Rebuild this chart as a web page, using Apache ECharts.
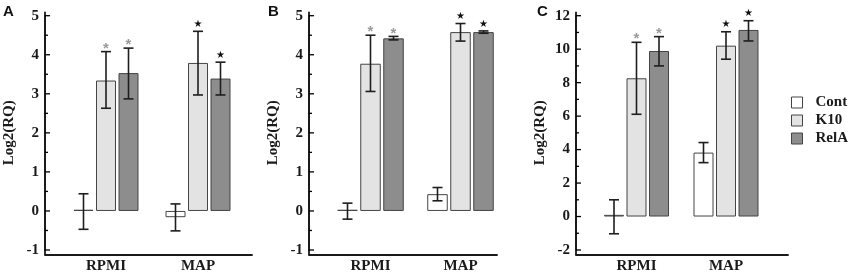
<!DOCTYPE html>
<html>
<head>
<meta charset="utf-8">
<script src="https://cdn.jsdelivr.net/npm/echarts@6/dist/echarts.min.js"></script>
<style>
  html, body { margin: 0; padding: 0; background: #fff; }
  #chart { width: 851px; height: 277px; }
</style>
</head>
<body>
<div id="chart"></div>
<script>
// categories and groups
const categories = ['RPMI', 'MAP']
const catPos = [1, 2]        // position of each category on the x value axis
const groups = ['Cont', 'K10', 'RelA']
const marks = ['*', '★']   // significance mark per category (K10 and RelA only)

// panel A: means [RPMI, MAP] and error bar ends
const aCont = [0.03, -0.16]
const aK10 = [3.34, 3.79]
const aRelA = [3.53, 3.39]
const aLow = [[-0.47, -0.51], [2.63, 2.97], [2.87, 2.97]]
const aHigh = [[0.44, 0.18], [4.08, 4.60], [4.17, 3.81]]

// panel B
const bCont = [0.03, 0.43]
const bK10 = [3.77, 4.58]
const bRelA = [4.42, 4.58]
const bLow = [[-0.21, 0.26], [3.06, 4.35], [4.38, 4.55]]
const bHigh = [[0.20, 0.60], [4.50, 4.80], [4.47, 4.61]]

// panel C
const cCont = [0.10, 3.82]
const cK10 = [8.26, 10.21]
const cRelA = [9.89, 11.15]
const cLow = [[-1.03, 3.22], [6.11, 9.40], [9.00, 10.49]]
const cHigh = [[1.00, 4.42], [10.41, 11.04], [10.75, 11.70]]

// y ticks per panel
const yMajorA = [-1, 0, 1, 2, 3, 4, 5]
const yMinorA = [-0.5, 0.5, 1.5, 2.5, 3.5, 4.5]
const yMajorC = [-2, 0, 2, 4, 6, 8, 10, 12]
const yMinorC = [-1, 1, 3, 5, 7, 9, 11]

const fills = ['#ffffff', '#e3e3e3', '#8d8d8d']
const serif = 'Liberation Serif'
const ink = '#1a1a1a'

// frame: axis line span in px; centers: pixel centre of each bar group
const panels = [
  { letter: 'A', letterX: 3, frame: [45, 252], centers: [106, 198], major: yMajorA, minor: yMinorA,
    barW: 20, gap: 2.5, vals: [aCont, aK10, aRelA], low: aLow, high: aHigh },
  { letter: 'B', letterX: 268, frame: [309, 497], centers: [370.5, 460.5], major: yMajorA, minor: yMinorA,
    barW: 20.5, gap: 2.5, vals: [bCont, bK10, bRelA], low: bLow, high: bHigh },
  { letter: 'C', letterX: 537, frame: [576, 788], centers: [636.5, 726], major: yMajorC, minor: yMinorC,
    barW: 20, gap: 2.5, vals: [cCont, cK10, cRelA], low: cLow, high: cHigh }
]

const W = 851, H = 277
const grid = [], xAxis = [], yAxis = [], series = [], title = []

panels.forEach((p, k) => {
  const fi = 2 * k, pi = 2 * k + 1
  const L = p.frame[0], R = p.frame[1]
  // frame grid: draws the long axis lines only
  grid.push({ left: L, width: R - L, top: 12.5, bottom: H - 254.5 })
  xAxis.push({ type: 'value', gridIndex: fi, min: 0, max: 1,
    axisLine: { lineStyle: { color: ink, width: 1.8 } },
    axisTick: { show: false }, axisLabel: { show: false }, splitLine: { show: false } })
  yAxis.push({ type: 'value', gridIndex: fi, min: 0, max: 1,
    axisLine: { show: true, lineStyle: { color: ink, width: 1.8 } },
    axisTick: { show: false }, axisLabel: { show: false }, splitLine: { show: false } })

  // plot grid: bars, labels
  const s = p.centers[1] - p.centers[0]
  const xMin = catPos[0] - (p.centers[0] - L) / s
  const xMax = catPos[1] + (R - p.centers[1]) / s
  const yMin = p.major[0], yMax = p.major[p.major.length - 1]
  grid.push({ left: L, width: R - L, top: 15.7, bottom: H - 250 })
  xAxis.push({ type: 'value', gridIndex: pi, min: xMin, max: xMax,
    axisLine: { show: false }, axisTick: { show: false }, splitLine: { show: false },
    axisLabel: { customValues: catPos, formatter: v => categories[catPos.indexOf(Math.round(v))] || '',
      margin: 9, fontFamily: serif, fontWeight: 'bold', fontSize: 15, color: ink } })
  yAxis.push({ type: 'value', gridIndex: pi, min: yMin, max: yMax, interval: p.major[1] - p.major[0],
    name: 'Log2(RQ)', nameLocation: 'middle', nameRotate: 90, nameGap: 28,
    nameTextStyle: { fontFamily: serif, fontWeight: 'bold', fontSize: 15, color: ink },
    axisLine: { show: true, lineStyle: { color: ink, width: 1.8 } },
    axisTick: { show: false },
    axisLabel: { margin: 6, fontFamily: serif, fontWeight: 'bold', fontSize: 15, color: ink },
    splitLine: { show: false } })

  groups.forEach((g, gi) => {
    series.push({ type: 'bar', name: g, xAxisIndex: pi, yAxisIndex: pi,
      data: catPos.map((x, ci) => [x, p.vals[gi][ci]]),
      barWidth: p.barW, barGap: (p.gap / p.barW * 100) + '%',
      itemStyle: { color: fills[gi], borderColor: '#444', borderWidth: 1 },
      silent: true, animation: false })
  })

  // inward y ticks, placed through the y scale
  const tickData = p.major.map(v => [xMin, v, 1]).concat(p.minor.map(v => [xMin, v, 0]))
  series.push({ type: 'custom', xAxisIndex: pi, yAxisIndex: pi, z: 6, silent: true, animation: false,
    clip: false, data: tickData, encode: { x: 0, y: 1 },
    renderItem: (params, api) => {
      const pt = api.coord([api.value(0), api.value(1)])
      const len = api.value(2) ? 5 : 3
      return { type: 'line', shape: { x1: pt[0], y1: pt[1], x2: pt[0] + len, y2: pt[1] },
        style: { stroke: '#000', lineWidth: 1.3 } }
    } })

  const errData = []
  groups.forEach((g, gi) => {
    categories.forEach((c, ci) => errData.push([catPos[ci], gi, p.low[gi][ci], p.high[gi][ci], ci]))
  })
  const step = p.barW + p.gap
  series.push({ type: 'custom', xAxisIndex: pi, yAxisIndex: pi, z: 5, silent: true, animation: false,
    data: errData, encode: { x: 0, y: [2, 3] },
    renderItem: (params, api) => {
      const gi = api.value(1), ci = api.value(4)
      const top = api.coord([api.value(0), api.value(3)])
      const bot = api.coord([api.value(0), api.value(2)])
      const x = top[0] + (gi - 1) * step
      const st = { stroke: '#1e1e1e', lineWidth: 1.6 }
      const children = [
        { type: 'line', shape: { x1: x, y1: top[1], x2: x, y2: bot[1] }, style: st },
        { type: 'line', shape: { x1: x - 5, y1: top[1], x2: x + 5, y2: top[1] }, style: st },
        { type: 'line', shape: { x1: x - 5, y1: bot[1], x2: x + 5, y2: bot[1] }, style: st }
      ]
      if (gi > 0) {
        const star = ci === 1
        children.push({ type: 'text', style: {
          text: marks[ci], x: x, y: star ? top[1] - 7 : top[1] - 3,
          align: 'center', verticalAlign: 'middle',
          fill: star ? '#111' : '#9a9a9a',
          font: star ? '10px "DejaVu Sans"' : 'bold 15px "Liberation Sans"' } })
      }
      return { type: 'group', children: children }
    } })

  title.push({ text: p.letter, left: p.letterX, top: 4, padding: 0,
    textStyle: { fontFamily: 'Liberation Sans', fontWeight: 'bold', fontSize: 15, color: '#111' } })
})

const chart = echarts.init(document.getElementById('chart'))
chart.setOption({
  animation: false,
  title: title,
  grid: grid,
  xAxis: xAxis,
  yAxis: yAxis,
  legend: {
    data: groups, orient: 'vertical', left: 791, top: 95, padding: 0,
    itemWidth: 11, itemHeight: 11, itemGap: 3, icon: 'rect',
    itemStyle: { borderColor: '#444', borderWidth: 1 },
    textStyle: { fontFamily: serif, fontWeight: 'bold', fontSize: 15, color: ink, padding: [0, 0, 0, 8] },
    selectedMode: false
  },
  series: series
})
</script>
</body>
</html>
